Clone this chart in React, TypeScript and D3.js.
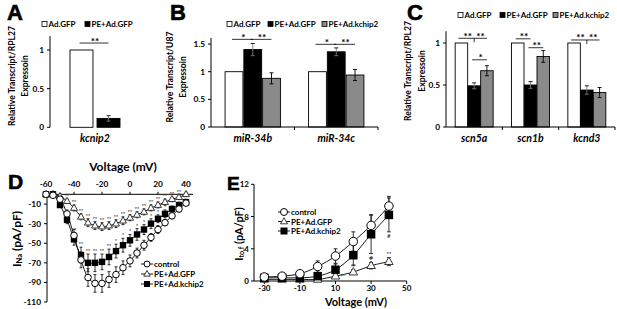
import React from 'react';
import * as d3 from 'd3';

const W = 617, H = 309;
const FONT = "Lato, 'Liberation Sans', Arial, sans-serif";
const LETTER_FONT = "'Liberation Sans', Arial, sans-serif";

// ---------- Bar panels data ----------
const seriesNames = ["Ad.GFP", "PE+Ad.GFP", "PE+Ad.kchip2"];
const seriesFills = ["#ffffff", "#000000", "#8a8a8a"];

// Panel A
const catsA = ["kcnip2"];
const meanA_GFP = [1];
const meanA_PE = [0.115];
const errA_GFP = [0];
const errA_PE = [0.035];
const ticksA = [0, 0.5, 1];

// Panel B
const catsB = ["miR-34b", "miR-34c"];
const meanB_GFP = [1, 1];
const meanB_PE = [1.40, 1.36];
const meanB_K = [0.88, 0.94];
const errB_GFP = [0, 0];
const errB_PE = [0.11, 0.07];
const errB_K = [0.10, 0.10];
const ticksB = [0, 0.5, 1, 1.5];

// Panel C
const catsC = ["scn5a", "scn1b", "kcnd3"];
const meanC_GFP = [1, 1, 1];
const meanC_PE = [0.49, 0.50, 0.44];
const meanC_K = [0.67, 0.84, 0.41];
const errC_GFP = [0, 0, 0];
const errC_PE = [0.035, 0.04, 0.05];
const errC_K = [0.06, 0.07, 0.06];
const ticksC = [0, 0.5, 1];

type Sig = { cat: number; a: number; b: number; y: number; label: string; label2?: string; mid?: number };
const sigA: Sig[] = [{ cat: 0, a: 0, b: 1, y: 1.09, label: "**" }];
const sigB: Sig[] = [
  { cat: 0, a: 0, b: 1, y: 1.585, label: "*" },
  { cat: 0, a: 1, b: 2, y: 1.585, label: "**" },
  { cat: 1, a: 0, b: 1, y: 1.495, label: "*" },
  { cat: 1, a: 1, b: 2, y: 1.495, label: "**" },
];
const sigC: Sig[] = [
  { cat: 0, a: 0, b: 2, y: 1.056, label: "**", label2: "**", mid: 1 },
  { cat: 0, a: 1, b: 2, y: 0.80, label: "*" },
  { cat: 1, a: 0, b: 1, y: 1.05, label: "**" },
  { cat: 1, a: 1, b: 2, y: 0.944, label: "**" },
  { cat: 2, a: 0, b: 2, y: 1.036, label: "**", label2: "**", mid: 1 },
];

// ---------- Panel D data (I-V, Na current) ----------
const voltD = [-60, -55, -50, -45, -40, -35, -30, -25, -20, -15, -10, -5, 0, 5, 10, 15, 20, 25, 30, 35, 40];
const ctrlD = [0, -1, -5, -20, -42, -67, -85, -91, -91, -87, -82, -75, -68, -60, -52, -44, -36, -29, -22, -15, -9];
const ctrlErrD = [0, 0.5, 2, 4, 6, 8, 9, 9, 9, 8, 8, 7, 6, 5, 5, 4, 4, 3, 3, 3, 2];
const gfpD = [0, 0, -2, -7, -14, -23, -29, -32, -33, -32, -30, -27, -24, -21, -18, -14, -11, -8, -5, -3, 0];
const gfpErrD = [0, 0, 1, 2, 3, 3, 4, 4, 4, 4, 4, 4, 3, 3, 3, 3, 3, 3, 2, 2, 2];
const kD = [0, 0, -11, -26, -46, -62, -70, -70, -69, -64, -58, -52, -47, -41, -36, -30, -25, -20, -15, -11, -8];
const kErrD = [0, 0.5, 2, 4, 6, 8, 9, 9, 8, 8, 7, 7, 6, 6, 5, 5, 4, 4, 3, 3, 3];
const ticksDx = [-60, -40, -20, 0, 20, 40];
const ticksDy = [-10, -30, -50, -70, -90, -110];
const starsDgfp = [-45, -40, -35, -30, -25, -20, -15, -10, -5, 0, 5, 10, 15, 20, 25, 30, 35];
const starsDk2 = [-40, -35, -30, -25, -20, -15];
const starsDk1 = [-10, -5, 0, 5, 10, 15, 20, 25, 30];

// ---------- Panel E data (Ito,f) ----------
const voltE = [-30, -20, -10, 0, 10, 20, 30, 40];
const ctrlE = [0.5, 0.6, 0.9, 1.8, 3.1, 4.9, 6.9, 9.3];
const ctrlErrE = [0.2, 0.2, 0.3, 0.7, 0.9, 1.2, 1.3, 1.2];
const gfpE = [0.2, 0.2, 0.2, 0.2, 0.6, 1.1, 1.9, 2.4];
const gfpErrE = [0.1, 0.1, 0.1, 0.1, 0.2, 0.3, 0.4, 0.5];
const kE = [0.4, 0.4, 0.4, 0.6, 1.4, 3.2, 5.8, 8.2];
const kErrE = [0.2, 0.2, 0.3, 0.3, 0.7, 1.3, 2.4, 2.1];
const ticksEx = [-30, -10, 10, 30, 50];
const ticksEy = [0, 4, 8, 12];
const starsEgfpAbove = [20, 30, 40];
const starsEgfpRight = [10];
const hashEk = [30, 40];

const lineNames = ["control", "PE+Ad.GFP", "PE+Ad.kchip2"];
const lineMarkers = ["circle", "triangle", "square"];

const fmt = (v: number) => String(v);

// ---------- Helpers ----------
function Marker({ type, x, y, s }: { type: string; x: number; y: number; s: number }) {
  if (type === "circle")
    return <circle cx={x} cy={y} r={s / 2} fill="#fff" stroke="#000" strokeWidth={1} />;
  if (type === "square")
    return <rect x={x - s / 2} y={y - s / 2} width={s} height={s} fill="#000" />;
  const h = s * 0.87;
  return (
    <path d={`M${x},${y - h * 0.62}L${x + s / 2},${y + h * 0.38}L${x - s / 2},${y + h * 0.38}Z`}
      fill="#fff" stroke="#222" strokeWidth={0.9} />
  );
}

function LegendSwatch({ x, y, i }: { x: number; y: number; i: number }) {
  return <rect x={x} y={y - 2.5} width={5} height={5} fill={seriesFills[i]} stroke="#000" strokeWidth={0.8} />;
}

function BarPanel(p: {
  cats: string[]; means: number[][]; errs: number[][];
  xr: [number, number]; yZero: number; yMaxVal: number; yMaxPx: number; ticks: number[];
  gIn: number; gOut: number; sigs: Sig[]; showX: boolean;
  legX: number[]; legY: number;
}) {
  const nS = p.means.length;
  const x = d3.scaleBand<string>().domain(p.cats).range(p.xr).paddingInner(0).paddingOuter(0);
  const xs = d3.scaleBand<number>().domain(d3.range(nS)).range([0, x.bandwidth()]).paddingInner(p.gIn).paddingOuter(p.gOut);
  const y = d3.scaleLinear().domain([0, p.yMaxVal]).range([p.yZero, p.yMaxPx]);
  const cx = (c: number, s: number) => (x(p.cats[c]) as number) + (xs(s) as number) + xs.bandwidth() / 2;
  const ax = p.xr[0];
  return (
    <g fontFamily={FONT} fontWeight="bold">
      {p.legX.map((lx, i) => (
        <g key={"lg" + i}>
          <LegendSwatch x={lx} y={p.legY} i={i} />
          <text x={lx + 6.5} y={p.legY} dominantBaseline="central" fontSize={8}>{seriesNames[i]}</text>
        </g>
      ))}
      {p.cats.map((c, ci) =>
        p.means.map((m, si) => (
          <rect key={c + si} x={(x(c) as number) + (xs(si) as number)} y={y(m[ci])}
            width={xs.bandwidth()} height={y(0) - y(m[ci])}
            fill={seriesFills[si]} stroke="#000" strokeWidth={0.9} />
        ))
      )}
      {p.cats.map((c, ci) =>
        p.means.map((m, si) => {
          const e = p.errs[si][ci];
          if (!e) return null;
          const xx = cx(ci, si);
          const inner = si === 1 ? "#777" : "#000";
          return (
            <g key={"e" + c + si} stroke="#000" strokeWidth={0.9}>
              <line x1={xx} x2={xx} y1={y(m[ci] + e)} y2={y(m[ci] - e)} stroke={inner} />
              <line x1={xx - 2} x2={xx + 2} y1={y(m[ci] + e)} y2={y(m[ci] + e)} />
              <line x1={xx - 2} x2={xx + 2} y1={y(m[ci] - e)} y2={y(m[ci] - e)} stroke={inner} />
            </g>
          );
        })
      )}
      {p.sigs.map((s, i) => {
        const x1 = cx(s.cat, s.a), x2 = cx(s.cat, s.b), yy = y(s.y);
        if (s.mid !== undefined) {
          const xm = cx(s.cat, s.mid);
          return (
            <g key={"s" + i}>
              <line x1={x1 - 3} x2={x2} y1={yy} y2={yy} stroke="#000" strokeWidth={0.8} />
              <line x1={xm} x2={xm} y1={yy} y2={yy + 4} stroke="#000" strokeWidth={0.8} />
              <text x={(x1 + xm) / 2} y={yy + 1.5} textAnchor="middle" fontSize={10}>{s.label}</text>
              <text x={(xm + x2) / 2} y={yy + 1.5} textAnchor="middle" fontSize={10}>{s.label2}</text>
            </g>
          );
        }
        return (
          <g key={"s" + i}>
            <line x1={x1 - 2} x2={x2} y1={yy} y2={yy} stroke="#000" strokeWidth={0.8} />
            <text x={(x1 + x2) / 2} y={yy + 1.5} textAnchor="middle" fontSize={10}>{s.label}</text>
          </g>
        );
      })}
      <line x1={ax} x2={ax} y1={p.yMaxPx} y2={p.yZero} stroke="#000" strokeWidth={1} />
      {p.ticks.map((t) => (
        <g key={"t" + t}>
          <line x1={ax - 3} x2={ax} y1={y(t)} y2={y(t)} stroke="#000" strokeWidth={1} />
          <text x={ax - 6} y={y(t)} textAnchor="end" dominantBaseline="central" fontSize={8.3}>{fmt(t)}</text>
        </g>
      ))}
      {p.showX && (
        <g>
          <line x1={ax} x2={p.xr[1]} y1={p.yZero} y2={p.yZero} stroke="#000" strokeWidth={1} />
          {p.cats.map((c) => (
            <line key={"xt" + c} x1={(x(c) as number) + x.bandwidth()} x2={(x(c) as number) + x.bandwidth()}
              y1={p.yZero} y2={p.yZero + 3} stroke="#000" strokeWidth={1} />
          ))}
        </g>
      )}
      {p.cats.map((c) => (
        <text key={"cl" + c} x={(x(c) as number) + x.bandwidth() / 2} y={142} textAnchor="middle"
          fontSize={10.5} fontStyle="italic">{c}</text>
      ))}
    </g>
  );
}

function YLabel2({ x1, x2, y, l1, l2 }: { x1: number; x2: number; y: number; l1: string; l2: string }) {
  return (
    <g fontFamily={FONT} fontWeight="bold" fontSize={8.6} textAnchor="middle">
      <text transform={`translate(${x1},${y}) rotate(-90)`} dominantBaseline="central">{l1}</text>
      <text transform={`translate(${x2},${y}) rotate(-90)`} dominantBaseline="central">{l2}</text>
    </g>
  );
}

function LinePanel(p: {
  volt: number[]; series: number[][]; errs: number[][];
  xs: d3.ScaleLinear<number, number>; ys: d3.ScaleLinear<number, number>;
  mSize: number[]; cap: number;
}) {
  const mk = (arr: number[]) =>
    d3.line<number>().x((_, i) => p.xs(p.volt[i])).y((d) => p.ys(d)).curve(d3.curveCatmullRom.alpha(0.5))(arr) as string;
  return (
    <g>
      {p.series.map((s, si) => (
        <path key={"l" + si} d={mk(s)} fill="none" stroke="#000" strokeWidth={0.9} />
      ))}
      {p.series.map((s, si) =>
        s.map((v, i) => {
          const e = p.errs[si][i];
          if (!e) return null;
          const xx = p.xs(p.volt[i]);
          return (
            <g key={"e" + si + "_" + i} stroke="#000" strokeWidth={0.8}>
              <line x1={xx} x2={xx} y1={p.ys(v + e)} y2={p.ys(v - e)} />
              <line x1={xx - p.cap} x2={xx + p.cap} y1={p.ys(v + e)} y2={p.ys(v + e)} />
              <line x1={xx - p.cap} x2={xx + p.cap} y1={p.ys(v - e)} y2={p.ys(v - e)} />
            </g>
          );
        })
      )}
      {[1, 2, 0].map((si) =>
        p.series[si].map((v, i) => (
          <Marker key={"m" + si + "_" + i} type={lineMarkers[si]} x={p.xs(p.volt[i])} y={p.ys(v)} s={p.mSize[si]} />
        ))
      )}
    </g>
  );
}

function LineLegend({ x, y, dy, fs, ms }: { x: number; y: number; dy: number; fs: number; ms: number[] }) {
  return (
    <g fontFamily={FONT} fontWeight="bold" fontSize={fs}>
      {lineNames.map((n, i) => (
        <g key={n}>
          <line x1={x} x2={x + 12} y1={y + i * dy} y2={y + i * dy} stroke="#000" strokeWidth={0.9} />
          <Marker type={lineMarkers[i]} x={x + 6} y={y + i * dy} s={ms[i]} />
          <text x={x + 13} y={y + i * dy} dominantBaseline="central">{n}</text>
        </g>
      ))}
    </g>
  );
}

export default function App() {
  const xD = d3.scaleLinear().domain([-60, 40]).range([46, 186]);
  const yD = d3.scaleLinear().domain([0, -110]).range([194.3, 302]);
  const axD = 47;
  const xE = d3.scaleLinear().domain([-30, 50]).range([264.3, 406.7]);
  const yE = d3.scaleLinear().domain([0, 12]).range([281, 184.3]);
  const axE = 254;

  return (
    <svg width={W} height={H} viewBox={`0 0 ${W} ${H}`} style={{ position: 'absolute', left: 0, top: 0, background: '#fff' }}>
      <rect x={0} y={0} width={W} height={H} fill="#fff" />
      <g fontFamily={LETTER_FONT} fontWeight="bold" stroke="#000" strokeWidth={0.6}>
        <text x={7} y={20} fontSize={22}>A</text>
        <text x={170} y={20} fontSize={22}>B</text>
        <text x={407} y={20} fontSize={22}>C</text>
        <text x={8} y={189} fontSize={21}>D</text>
        <text x={227} y={190} fontSize={19}>E</text>
      </g>

      <YLabel2 x1={12} x2={25} y={76} l1="Relative Transcript/RPL27" l2="Expressoin" />
      <BarPanel cats={catsA} means={[meanA_GFP, meanA_PE]} errs={[errA_GFP, errA_PE]}
        xr={[50, 140]} yZero={127.3} yMaxVal={1.18} yMaxPx={127.3 - 1.18 * 77.3} ticks={ticksA}
        gIn={0.15} gOut={0.74} sigs={sigA} showX={false} legX={[42, 85]} legY={24} />

      <YLabel2 x1={170} x2={183} y={77} l1="Relative Transcript/U87" l2="Expressoin" />
      <BarPanel cats={catsB} means={[meanB_GFP, meanB_PE, meanB_K]} errs={[errB_GFP, errB_PE, errB_K]}
        xr={[211, 378]} yZero={127} yMaxVal={1.61} yMaxPx={127 - 1.61 * 55.3} ticks={ticksB}
        gIn={0.05} gOut={0.75} sigs={sigB} showX={true} legX={[227, 268, 322]} legY={24} />

      <YLabel2 x1={408} x2={422} y={71} l1="Relative Transcript/RPL27" l2="Expressoin" />
      <BarPanel cats={catsC} means={[meanC_GFP, meanC_PE, meanC_K]} errs={[errC_GFP, errC_PE, errC_K]}
        xr={[446, 615]} yZero={127} yMaxVal={1.14} yMaxPx={127 - 1.14 * 84} ticks={ticksC}
        gIn={0.02} gOut={0.72} sigs={sigC} showX={true} legX={[458, 500, 553]} legY={15} />

      {/* Panel D */}
      <g fontFamily={FONT} fontWeight="bold">
        <text x={123} y={171} textAnchor="middle" fontSize={12}>Voltage (mV)</text>
        <line x1={axD} x2={xD(45)} y1={yD(0)} y2={yD(0)} stroke="#000" strokeWidth={1} />
        {ticksDx.map((t) => (
          <g key={"dx" + t}>
            <line x1={xD(t)} x2={xD(t)} y1={yD(0)} y2={yD(0) - 2.5} stroke="#000" />
            <text x={xD(t)} y={187} textAnchor="middle" fontSize={8.3}>{t}</text>
          </g>
        ))}
        <line x1={axD} x2={axD} y1={yD(0)} y2={yD(-110)} stroke="#000" strokeWidth={1} />
        {ticksDy.map((t) => (
          <g key={"dy" + t}>
            <line x1={axD - 3} x2={axD} y1={yD(t)} y2={yD(t)} stroke="#000" />
            <text x={axD - 6} y={yD(t)} textAnchor="end" dominantBaseline="central" fontSize={8.3}>{t}</text>
          </g>
        ))}
        <text transform={`translate(16,239) rotate(-90)`} textAnchor="middle" dominantBaseline="central" fontSize={12}>
          <tspan>I</tspan><tspan fontSize={7.5} dy={2.5}>Na</tspan><tspan dy={-2.5}> (pA/pF)</tspan>
        </text>
      </g>
      <LinePanel volt={voltD} series={[ctrlD, gfpD, kD]} errs={[ctrlErrD, gfpErrD, kErrD]}
        xs={xD} ys={yD} mSize={[6.6, 7, 6.4]} cap={1.5} />
      <g fontFamily={FONT} fontWeight="bold" fontSize={5} fill="#333">
        {starsDgfp.map((v) => {
          const i = voltD.indexOf(v);
          return <text key={"sg" + v} x={xD(v)} y={yD(gfpD[i] + gfpErrD[i]) - 1} textAnchor="middle">**</text>;
        })}
        {starsDk2.map((v) => {
          const i = voltD.indexOf(v);
          return <text key={"sk" + v} x={xD(v)} y={yD(kD[i] + kErrD[i]) - 1} textAnchor="middle">**</text>;
        })}
        {starsDk1.map((v) => {
          const i = voltD.indexOf(v);
          return <text key={"sk1" + v} x={xD(v)} y={yD(kD[i] + kErrD[i]) - 1} textAnchor="middle">*</text>;
        })}
      </g>
      <LineLegend x={141} y={264} dy={10} fs={8} ms={[6, 6.5, 6]} />

      {/* Panel E */}
      <g fontFamily={FONT} fontWeight="bold">
        <line x1={axE} x2={axE} y1={yE(0)} y2={yE(12)} stroke="#000" strokeWidth={1} />
        {ticksEy.map((t) => (
          <g key={"ey" + t}>
            <line x1={axE - 3} x2={axE} y1={yE(t)} y2={yE(t)} stroke="#000" />
            <text x={axE - 5} y={yE(t)} textAnchor="end" dominantBaseline="central" fontSize={8}>{t}</text>
          </g>
        ))}
        <line x1={axE} x2={xE(50)} y1={yE(0)} y2={yE(0)} stroke="#000" strokeWidth={1} />
        {ticksEx.map((t) => (
          <g key={"ex" + t}>
            <line x1={xE(t)} x2={xE(t)} y1={yE(0)} y2={yE(0) + 3} stroke="#000" />
            <text x={xE(t)} y={291} textAnchor="middle" fontSize={8}>{t}</text>
          </g>
        ))}
        <text x={356} y={305.5} textAnchor="middle" fontSize={11}>Voltage (mV)</text>
        <text transform={`translate(238,234) rotate(-90)`} textAnchor="middle" dominantBaseline="central" fontSize={11}>
          <tspan>I</tspan><tspan fontSize={7} dy={2.5}>to,f</tspan><tspan dy={-2.5}> (pA/pF)</tspan>
        </text>
      </g>
      <LinePanel volt={voltE} series={[ctrlE, gfpE, kE]} errs={[ctrlErrE, gfpErrE, kErrE]}
        xs={xE} ys={yE} mSize={[8.5, 8.5, 8.5]} cap={2} />
      <g fontFamily={FONT} fontWeight="bold" fontSize={5.5} fill="#333">
        {starsEgfpAbove.map((v) => {
          const i = voltE.indexOf(v);
          return <text key={"eg" + v} x={xE(v)} y={yE(gfpE[i] + gfpErrE[i]) - 1.5} textAnchor="middle">**</text>;
        })}
        {starsEgfpRight.map((v) => {
          const i = voltE.indexOf(v);
          return <text key={"er" + v} x={xE(v) + 5} y={yE(gfpE[i]) + 2} textAnchor="start">**</text>;
        })}
        {hashEk.map((v) => {
          const i = voltE.indexOf(v);
          return <text key={"eh" + v} x={xE(v)} y={yE(kE[i] - kErrE[i]) + 6} textAnchor="middle">#</text>;
        })}
      </g>
      <LineLegend x={278} y={212} dy={9.5} fs={8} ms={[7, 7, 7]} />
    </svg>
  );
}
